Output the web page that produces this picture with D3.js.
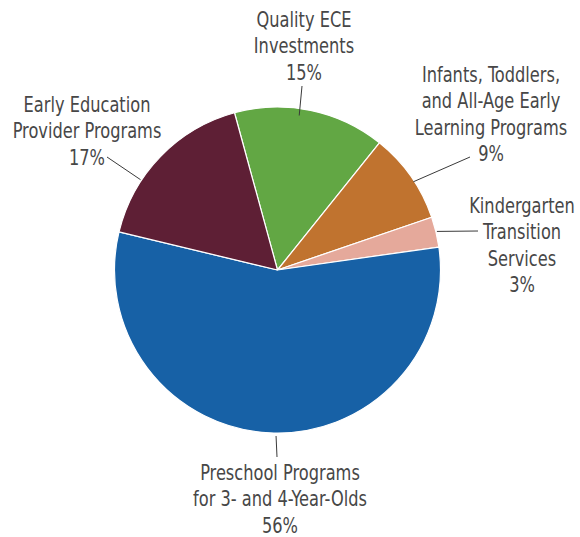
<!DOCTYPE html>
<html>
<head>
<meta charset="utf-8">
<script src="https://cdn.jsdelivr.net/npm/d3@7/dist/d3.min.js"></script>
<style>
  html, body { margin: 0; padding: 0; background: #fff; }
  svg text { font-family: "DejaVu Sans Condensed", "DejaVu Sans", sans-serif; font-stretch: condensed; fill: #474747; }
</style>
</head>
<body>
<svg id="chart" width="580" height="537"></svg>
<script>
// Slice data, clockwise from the top
const categories = [
  ["Quality ECE", "Investments"],
  ["Infants, Toddlers,", "and All-Age Early", "Learning Programs"],
  ["Kindergarten", "Transition", "Services"],
  ["Preschool Programs", "for 3- and 4-Year-Olds"],
  ["Early Education", "Provider Programs"]
];
const shares = [15, 9, 3, 56, 17];
const colors = ["#62a744", "#c0732f", "#e5a99b", "#1761a6", "#5e1f35"];

// Label placement (layout only): label centre x, first baseline y,
// leader angle on the rim (deg, clockwise from top), radius and outer end
const labelLayout = [
  { x: 304, y: 27, angle: 8, r: 156, outer: [302, 86] },
  { x: 491, y: 82, angle: 57, r: 162, outer: [470, 157] },
  { x: 522, y: 213, angle: 76.4, r: 164, outer: [478, 231] },
  { x: 280, y: 480, angle: 180.5, r: 166, outer: [277, 457] },
  { x: 87, y: 112, angle: 303.4, r: 164, outer: [107, 157] }
];

const cx = 277.5, cy = 270, radius = 163, lineH = 26.3;
const startDeg = -15.3;
const fontSize = 22, squeeze = 0.82;

const svg = d3.select("#chart");
const g = svg.append("g").attr("transform", `translate(${cx},${cy})`);

const pie = d3.pie()
  .sort(null)
  .value(d => d)
  .startAngle(startDeg * Math.PI / 180)
  .endAngle((startDeg + 360) * Math.PI / 180);

const arc = d3.arc().innerRadius(0).outerRadius(radius);

g.selectAll("path.slice")
  .data(pie(shares))
  .enter().append("path")
  .attr("class", "slice")
  .attr("d", arc)
  .attr("fill", (d, i) => colors[i])
  .attr("stroke", "#fff")
  .attr("stroke-width", 1.2)
  .attr("stroke-linejoin", "round");

// Leader lines
labelLayout.forEach(function(l) {
  const a = l.angle * Math.PI / 180;
  svg.append("line")
    .attr("x1", cx + l.r * Math.sin(a))
    .attr("y1", cy - l.r * Math.cos(a))
    .attr("x2", l.outer[0])
    .attr("y2", l.outer[1])
    .attr("stroke", "#3a3a3a")
    .attr("stroke-width", 1);
});

// Labels (horizontally squeezed to mimic the condensed face)
categories.forEach(function(lines, i) {
  const l = labelLayout[i];
  const t = svg.append("text")
    .attr("text-anchor", "middle")
    .attr("font-size", fontSize)
    .attr("transform", `translate(${l.x},${l.y}) scale(${squeeze},1)`);
  lines.concat([shares[i] + "%"]).forEach(function(s, j) {
    t.append("tspan")
      .attr("x", 0)
      .attr("y", j * lineH)
      .text(s);
  });
});
</script>
</body>
</html>
